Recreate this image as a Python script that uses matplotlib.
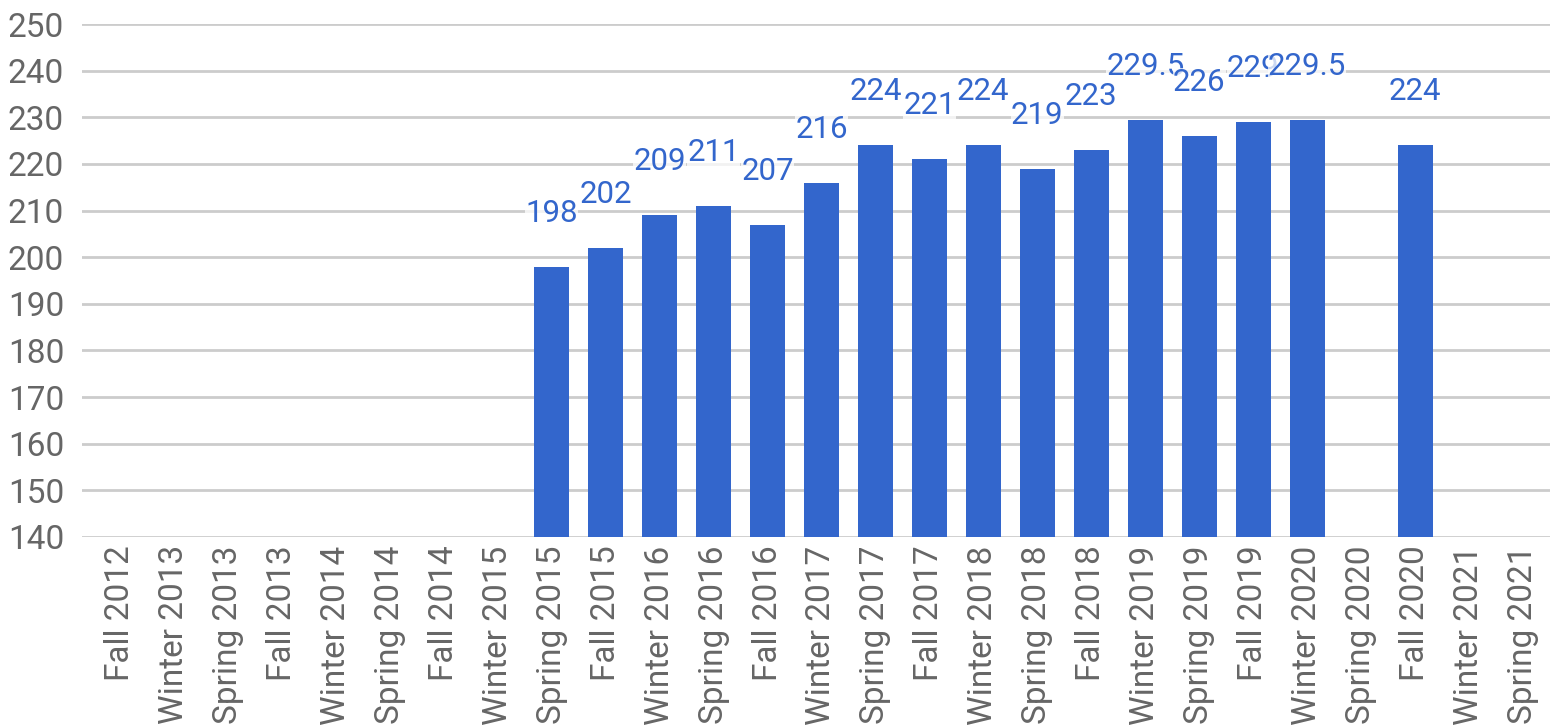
import numpy as np
import matplotlib
matplotlib.use("Agg")
import matplotlib.pyplot as plt

plt.rcParams['font.family'] = ['Roboto', 'DejaVu Sans']

terms = ["Fall 2012", "Winter 2013", "Spring 2013", "Fall 2013", "Winter 2014",
         "Spring 2014", "Fall 2014", "Winter 2015", "Spring 2015", "Fall 2015",
         "Winter 2016", "Spring 2016", "Fall 2016", "Winter 2017", "Spring 2017",
         "Fall 2017", "Winter 2018", "Spring 2018", "Fall 2018", "Winter 2019",
         "Spring 2019", "Fall 2019", "Winter 2020", "Spring 2020", "Fall 2020",
         "Winter 2021", "Spring 2021"]
nan = np.nan
scores = [nan, nan, nan, nan, nan, nan, nan, nan, 198, 202,
          209, 211, 207, 216, 224, 221, 224, 219, 223, 229.5,
          226, 229, 229.5, nan, 224, nan, nan]

blue = "#3366cc"
x = np.arange(len(terms))
vals = np.array(scores, dtype=float)

fig = plt.figure(figsize=(15.5, 7.28), dpi=100)
ax = fig.add_axes([0.053, 0.2624, 0.947, 0.7046])

ax.bar(x, np.where(np.isnan(vals), 0, vals) - 140, bottom=140, width=0.65,
       color=blue, zorder=3)

# value labels on a faint white box, later ones sit on top of earlier ones
for xi, v in zip(x, vals):
    if np.isnan(v):
        continue
    ax.annotate(f"{v:g}", (xi, v), xytext=(0, 28), textcoords="offset points",
                ha="center", va="bottom", fontsize=22.5, color=blue, zorder=4,
                bbox=dict(boxstyle="square,pad=0", fc="white", ec="none", alpha=0.75))

ax.set_ylim(140, 250)
ax.set_xlim(-0.7, len(terms) - 0.5)
ax.set_yticks(np.arange(140, 251, 10))
ax.yaxis.grid(True, color="#cccccc", linewidth=2, zorder=0)
ax.set_axisbelow(True)
for s in ax.spines.values():
    s.set_visible(False)
ax.tick_params(axis="both", length=0, labelsize=24, labelcolor="#666666")
ax.tick_params(axis="y", pad=13)
ax.tick_params(axis="x", pad=6)
ax.set_xticks(x)
ax.set_xticklabels(terms, rotation=90)

fig.savefig("out.png", dpi=100)
